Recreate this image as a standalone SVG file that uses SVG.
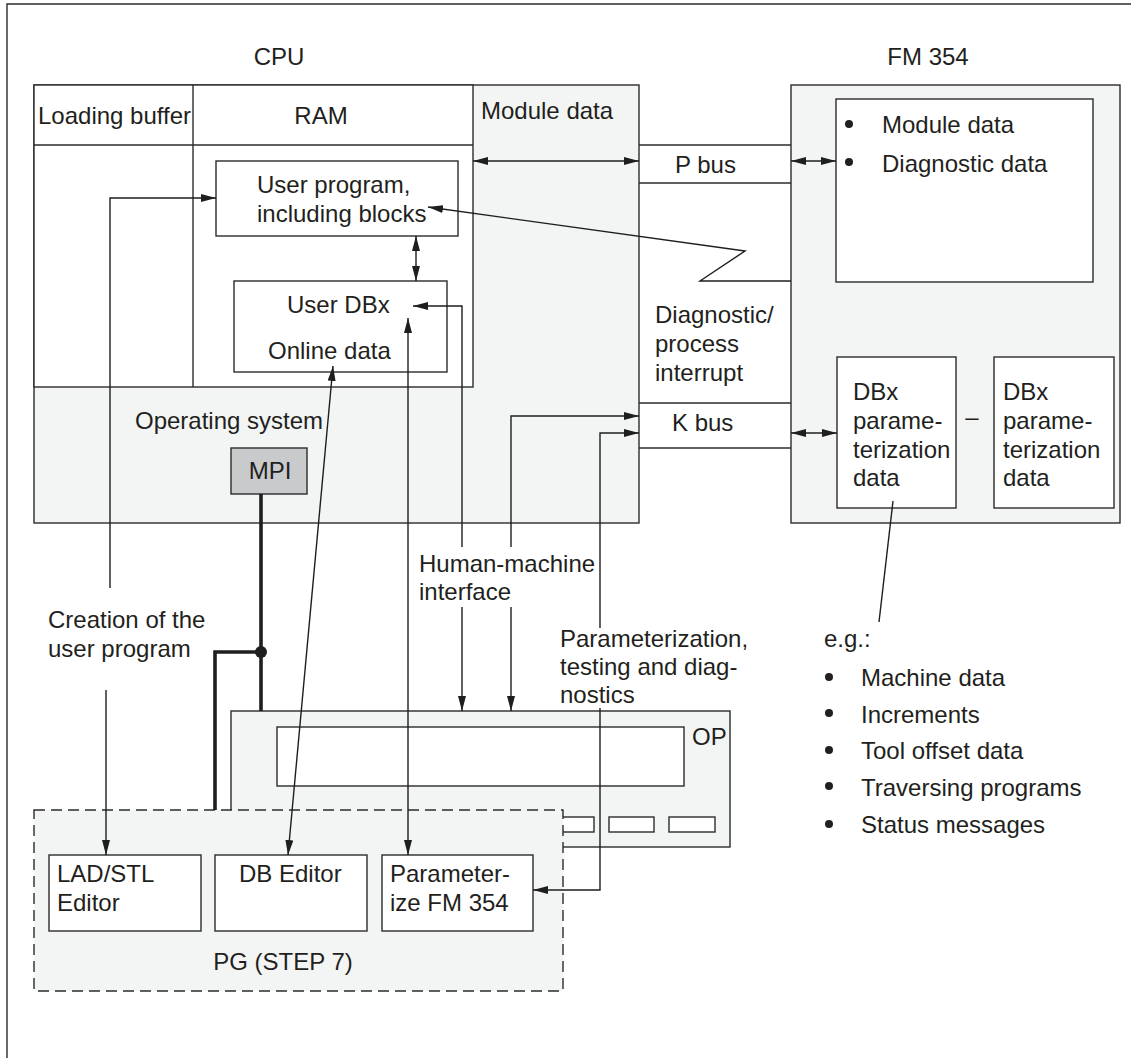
<svg xmlns="http://www.w3.org/2000/svg" width="1131" height="1058" viewBox="0 0 1131 1058">
<defs>
<style>
.t{font-family:"Liberation Sans",Arial,Helvetica,sans-serif;font-size:24px;fill:#231f20}
.m{text-anchor:middle}
.b{fill:none;stroke:#2b2b2b;stroke-width:1.4}
.g{fill:#f3f5f4;stroke:#2b2b2b;stroke-width:1.4}
.w{fill:#fff;stroke:#2b2b2b;stroke-width:1.4}
.c{fill:none;stroke:#1e1e1e;stroke-width:1.4}
.a{marker-end:url(#ah)}
.aa{marker-start:url(#ah);marker-end:url(#ah)}
.thick{fill:none;stroke:#1e1e1e;stroke-width:3.6}
</style>
<marker id="ah" viewBox="0 0 15 8" refX="15" refY="4" markerWidth="15" markerHeight="8" markerUnits="userSpaceOnUse" orient="auto-start-reverse">
<path d="M0,0 L15,4 L0,8 Z" fill="#1e1e1e"/>
</marker>
</defs>
<rect width="1131" height="1058" fill="#fff"/>
<path d="M7,1058 V4 H1131" class="b"/>

<g id="cpu">
<text class="t m" x="279" y="65">CPU</text>
<rect class="g" x="34" y="85" width="605" height="438"/>
<rect class="w" x="34" y="85" width="439" height="302"/>
<line class="b" x1="34" y1="145" x2="473" y2="145"/>
<line class="b" x1="193" y1="85" x2="193" y2="387"/>
<text class="t" x="38" y="124">Loading buffer</text>
<text class="t m" x="321" y="124">RAM</text>
<text class="t" x="481" y="119">Module data</text>
<text class="t" x="135" y="429">Operating system</text>
</g>

<g id="user-program">
<rect class="w" x="216" y="161" width="242" height="75"/>
<text class="t" x="257" y="193">User program,</text>
<text class="t" x="257" y="222">including blocks</text>
</g>

<g id="user-dbx">
<rect class="w" x="234" y="281" width="213" height="91"/>
<text class="t" x="287" y="313">User DBx</text>
<text class="t" x="268" y="359">Online data</text>
</g>

<g id="mpi">
<rect x="231" y="448" width="76" height="46" fill="#c9cacc" stroke="#2b2b2b" stroke-width="1.4"/>
<text class="t m" x="270" y="479">MPI</text>
</g>

<g id="p-bus">
<line class="b" x1="639" y1="145" x2="791" y2="145"/>
<line class="b" x1="639" y1="183" x2="791" y2="183"/>
<text class="t" x="675" y="173">P bus</text>
</g>

<g id="k-bus">
<line class="b" x1="639" y1="403" x2="791" y2="403"/>
<line class="b" x1="639" y1="448" x2="791" y2="448"/>
<text class="t" x="672" y="431">K bus</text>
</g>

<g id="interrupt-label">
<text class="t" x="655" y="323">Diagnostic/</text>
<text class="t" x="655" y="352">process</text>
<text class="t" x="655" y="381">interrupt</text>
</g>

<g id="fm354">
<text class="t m" x="928" y="65">FM 354</text>
<rect class="g" x="791" y="85" width="329" height="438"/>
<rect class="w" x="836" y="99" width="257" height="183"/>
<circle cx="849" cy="124" r="4" fill="#231f20"/>
<circle cx="849" cy="162" r="4" fill="#231f20"/>
<text class="t" x="882" y="133">Module data</text>
<text class="t" x="882" y="172">Diagnostic data</text>
</g>

<g id="dbx1">
<rect class="w" x="837" y="357" width="119" height="151"/>
<text class="t" x="853" y="400">DBx</text>
<text class="t" x="853" y="429">parame-</text>
<text class="t" x="853" y="458">terization</text>
<text class="t" x="853" y="486">data</text>
</g>
<text class="t m" x="972" y="425">–</text>
<g id="dbx2">
<rect class="w" x="994" y="357" width="120" height="151"/>
<text class="t" x="1003" y="400">DBx</text>
<text class="t" x="1003" y="429">parame-</text>
<text class="t" x="1003" y="458">terization</text>
<text class="t" x="1003" y="486">data</text>
</g>

<g id="examples">
<text class="t" x="824" y="647">e.g.:</text>
<circle cx="829" cy="677" r="4" fill="#231f20"/>
<circle cx="829" cy="713" r="4" fill="#231f20"/>
<circle cx="829" cy="750" r="4" fill="#231f20"/>
<circle cx="829" cy="786" r="4" fill="#231f20"/>
<circle cx="829" cy="824" r="4" fill="#231f20"/>
<text class="t" x="861" y="686">Machine data</text>
<text class="t" x="861" y="723">Increments</text>
<text class="t" x="861" y="759">Tool offset data</text>
<text class="t" x="861" y="796">Traversing programs</text>
<text class="t" x="861" y="833">Status messages</text>
</g>

<g id="op">
<rect class="g" x="231" y="711" width="499" height="136"/>
<rect class="w" x="277" y="727" width="407" height="59"/>
<rect class="w" x="549" y="817" width="45" height="15"/>
<rect class="w" x="609" y="817" width="45" height="15"/>
<rect class="w" x="669" y="817" width="46" height="15"/>
<text class="t" x="692" y="745">OP</text>
</g>

<g id="pg">
<rect x="34" y="810" width="529" height="181" fill="#f3f5f4" stroke="#2b2b2b" stroke-width="1.4" stroke-dasharray="11 6"/>
<text class="t m" x="283" y="970">PG (STEP 7)</text>
</g>
<g id="lad-stl">
<rect class="w" x="49" y="855" width="152" height="76"/>
<text class="t" x="57" y="882">LAD/STL</text>
<text class="t" x="57" y="911">Editor</text>
</g>
<g id="db-editor">
<rect class="w" x="215" y="855" width="152" height="76"/>
<text class="t" x="239" y="882">DB Editor</text>
</g>
<g id="param-fm">
<rect class="w" x="382" y="855" width="151" height="76"/>
<text class="t" x="390" y="882">Parameter-</text>
<text class="t" x="390" y="911">ize FM 354</text>
</g>

<g id="labels">
<text class="t" x="419" y="572">Human-machine</text>
<text class="t" x="419" y="600">interface</text>
<text class="t" x="48" y="628">Creation of the</text>
<text class="t" x="48" y="657">user program</text>
<text class="t" x="560" y="647">Parameterization,</text>
<text class="t" x="560" y="675">testing and diag-</text>
<text class="t" x="560" y="703">nostics</text>
</g>

<g id="connectors">
<path class="c aa" d="M473,161 H639"/>
<path class="c aa" d="M791,161 H836"/>
<path class="c aa" d="M791,433 H837"/>
<path class="c aa" d="M416,236 V281"/>
<path class="c a" d="M791,281 H700 L745,251 L428,207"/>
<path class="c a" d="M110,588 V198 H216"/>
<path class="c a" d="M106,690 V855"/>
<path class="c aa" d="M333,366 L288,855"/>
<path class="c aa" d="M408,318 V855"/>
<path class="c" d="M413,306 H462 V547" style="marker-start:url(#ah)"/>
<path class="c a" d="M462,607 V711"/>
<path class="c a" d="M511,547 V416 H639"/>
<path class="c a" d="M511,607 V711"/>
<path class="c a" d="M600,628 V433 H639"/>
<path class="c a" d="M600,708 V890 H533"/>
<path class="c" d="M893,501 L879,622"/>
<path class="thick" d="M261,494 V711"/>
<path class="thick" d="M261,652 H215 V810"/>
<circle cx="261" cy="652" r="6" fill="#1e1e1e"/>
</g>
</svg>
